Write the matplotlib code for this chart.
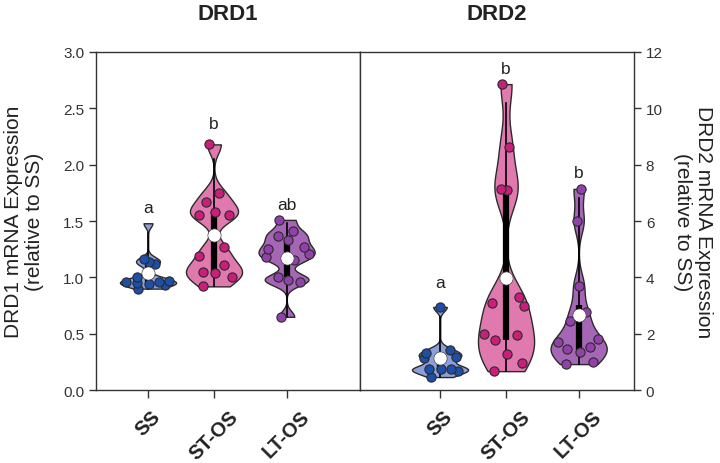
import matplotlib
matplotlib.use("Agg")
import matplotlib.pyplot as plt
import numpy as np
from scipy.stats import gaussian_kde

plt.rcParams['font.family'] = ['Liberation Sans', 'DejaVu Sans']

groups = ["SS", "ST-OS", "LT-OS"]

# DRD1 values
drd1_ss = [0.90, 0.93, 0.94, 0.95, 0.96, 0.96, 0.97, 1.00, 1.12, 1.14, 1.16, 1.48]
drd1_st = [0.92, 1.00, 1.04, 1.05, 1.11, 1.19, 1.27, 1.55, 1.55, 1.58, 1.67, 1.75, 2.18]
drd1_lt = [0.65, 0.96, 0.98, 1.00, 1.15, 1.18, 1.21, 1.25, 1.27, 1.33, 1.37, 1.41, 1.51]

# DRD2 values
drd2_ss = [0.46, 0.67, 0.75, 0.75, 0.75, 1.14, 1.17, 1.30, 1.42, 2.95]
drd2_st = [0.67, 0.96, 1.28, 1.77, 1.95, 1.99, 2.98, 3.09, 3.30, 7.10, 7.14, 8.63, 10.86]
drd2_lt = [0.92, 0.99, 1.35, 1.46, 1.53, 1.70, 1.81, 2.45, 2.77, 3.70, 6.00, 7.14]

drd1_letters = ["a", "b", "ab"]
drd2_letters = ["a", "b", "b"]

fills = ["#8c9fd8", "#e07aae", "#a566b6"]
dots = ["#1d4ea8", "#c91f7a", "#9241aa"]

pos = [0, 1, 2.1]
width = 0.85
pattern = [-0.68, 0.68, 0.05, -0.4, 0.4, -0.8, 0.8]


def draw(ax, data, letters, letter_pad, bw, hidden_top=False):
    parts = ax.violinplot(data, positions=pos, widths=width, showextrema=False,
                          bw_method=bw, points=300)
    for body, c in zip(parts['bodies'], fills):
        body.set_facecolor(c)
        body.set_edgecolor("#2b2b2b")
        body.set_linewidth(1.0)
        body.set_alpha(1)
    for i, vals in enumerate(data):
        v = np.array(vals)
        kde = gaussian_kde(v, bw_method=bw)
        grid = np.linspace(v.min(), v.max(), 300)
        dmax = kde(grid).max()
        lo, hi = np.percentile(v, [25, 75])
        top = np.percentile(v, 97.5)
        ax.plot([pos[i], pos[i]], [v.min(), top], color="black", lw=1.2, zorder=3)
        ax.plot([pos[i], pos[i]], [lo, hi], color="black", lw=4.5, zorder=3,
                solid_capstyle="butt")
        # dots spread inside the violin
        xs, ys = [], []
        for j, y in enumerate(v):
            if hidden_top and i == 0 and y == v.max():
                continue
            half = width / 2 * max(kde(y)[0] / dmax, 0.15)
            xs.append(pos[i] + pattern[j % len(pattern)] * half)
            ys.append(y)
        ax.scatter(xs, ys, s=44, color=dots[i], edgecolor="#2b2b2b",
                   linewidth=0.8, zorder=4)
        ax.plot(pos[i], v.mean(), 'o', color="white", markersize=9.5,
                markeredgecolor="#444444", markeredgewidth=0.5, zorder=5)
        ax.text(pos[i], v.max() + letter_pad[i], letters[i], ha="center",
                va="bottom", fontsize=12.5, color="#222222")


fig = plt.figure(figsize=(7.2, 4.64), dpi=100)
ax1 = fig.add_axes([0.1333, 0.1573, 0.3667, 0.7285])
ax2 = fig.add_axes([0.5, 0.1573, 0.3806, 0.7285])

draw(ax1, [drd1_ss, drd1_st, drd1_lt], drd1_letters, [0.07, 0.12, 0.07], 0.22,
     hidden_top=True)
draw(ax2, [drd2_ss, drd2_st, drd2_lt], drd2_letters, [0.6, 0.3, 0.3], 0.22)

ax1.set_xlim(-0.788, 3.212)
ax1.set_ylim(0, 3.0)
ax1.set_yticks(np.arange(0, 3.01, 0.5))
ax1.set_yticklabels([f"{t:.1f}" for t in np.arange(0, 3.01, 0.5)])
ax1.set_ylabel("DRD1 mRNA Expression\n(relative to SS)", fontsize=15,
               color="#222222", labelpad=14, linespacing=1.1)
ax1.set_title("DRD1", fontsize=16, fontweight="bold", pad=24, color="#222222")

ax2.set_xlim(-1.212, 2.939)
ax2.set_ylim(0, 12)
ax2.set_yticks(range(0, 13, 2))
ax2.yaxis.tick_right()
ax2.yaxis.set_label_position("right")
ax2.set_ylabel("DRD2 mRNA Expression\n(relative to SS)", fontsize=15,
               color="#222222", rotation=270, labelpad=36, linespacing=1.1)
ax2.set_title("DRD2", fontsize=16, fontweight="bold", pad=24, color="#222222")

for ax in (ax1, ax2):
    ax.set_xticks(pos)
    ax.set_xticklabels(groups, rotation=45, ha="center",
                       fontsize=14.5, fontweight="bold", color="#222222")
    ax.tick_params(axis="y", labelsize=11, colors="#333333", length=5, width=1)
    ax.tick_params(axis="x", length=6, width=1, color="#333333", pad=6)
    for s in ax.spines.values():
        s.set_color("#333333")
        s.set_linewidth(1.0)

fig.savefig("out.png", dpi=100)
